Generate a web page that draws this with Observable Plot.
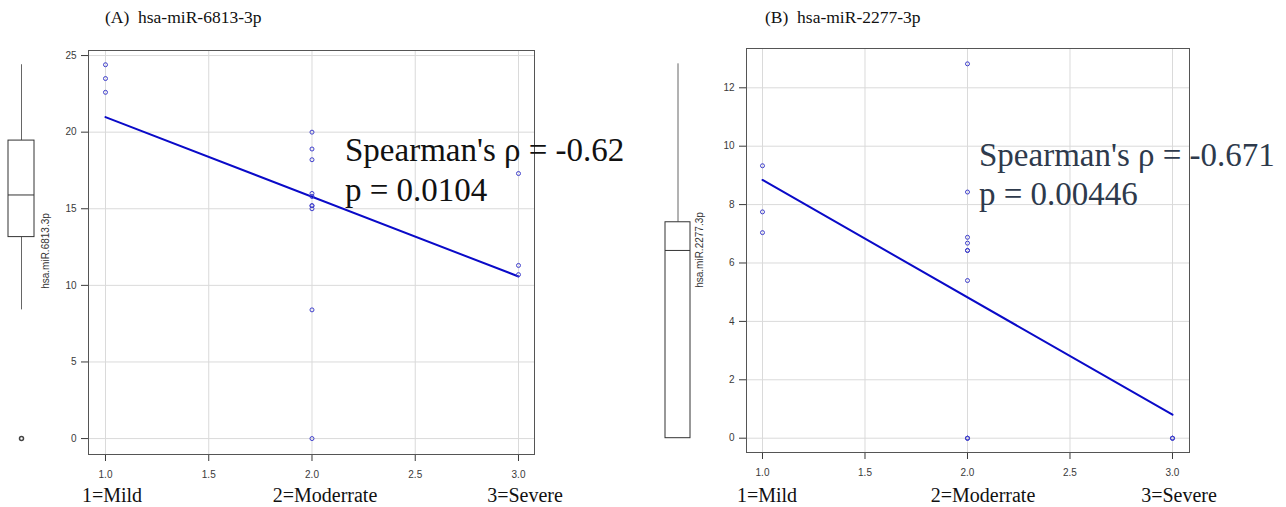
<!DOCTYPE html>
<html><head><meta charset="utf-8">
<script src="https://cdn.jsdelivr.net/npm/d3@7"></script>
<script src="https://cdn.jsdelivr.net/npm/@observablehq/plot@0.6"></script>
<style>
body{margin:0;background:#fff;}
#wrap{position:relative;width:1286px;height:507px;overflow:hidden;background:#fff;}
#wrap > svg, #wrap > div{position:absolute;}
.title{font-family:"Liberation Serif","Times New Roman",serif;font-size:17.5px;line-height:1;color:#111;white-space:pre;}
.stat{font-family:"Liberation Serif","Times New Roman",serif;font-size:33px;line-height:1;white-space:pre;}
.cat{font-family:"Liberation Serif","Times New Roman",serif;font-size:20px;line-height:1;color:#111;white-space:pre;transform:translateX(-50%);}
.ylab{font-family:"Liberation Sans",Arial,sans-serif;font-size:10px;line-height:1;color:#333;white-space:pre;transform:translate(-50%,-50%) rotate(-90deg);}
</style></head><body><div id="wrap"></div>
<script>
// ---- data ----
const titles = ["(A)  hsa-miR-6813-3p", "(B)  hsa-miR-2277-3p"];
const boxLabels = ["hsa.miR.6813.3p", "hsa.miR.2277.3p"];
const categoryLabels = ["1=Mild", "2=Moderrate", "3=Severe"];
const statLinesA = ["Spearman's \u03c1 = -0.62", "p = 0.0104"];
const statLinesB = ["Spearman's \u03c1 = -0.671", "p = 0.00446"];
const xTicks = [1, 1.5, 2, 2.5, 3];
const yTicksA = [0, 5, 10, 15, 20, 25];
const yTicksB = [0, 2, 4, 6, 8, 10, 12];
const severityA = [1,1,1, 2,2,2,2,2,2,2,2,2,2, 3,3,3];
const valuesA   = [24.4,23.5,22.6, 20.0,18.9,18.2,16.0,15.8,15.2,15.2,15.0,8.4,0, 17.3,11.3,10.7];
const severityB = [1,1,1, 2,2,2,2,2,2,2,2,2,2, 3,3,3];
const valuesB   = [9.33,7.75,7.04, 12.82,8.43,6.88,6.68,6.43,6.43,5.4,0,0,0, 0,0,0];

const wrap = document.getElementById("wrap");
const H = 507;

function fivenum(vals) {
  const x = vals.slice().sort(d3.ascending);
  const n = x.length;
  const n4 = Math.floor((n + 3) / 2) / 2;
  const at = d => 0.5 * (x[Math.floor(d) - 1] + x[Math.ceil(d) - 1]);
  const q1 = at(n4), med = at((n + 1) / 2), q3 = at(n + 1 - n4);
  const iqr = q3 - q1;
  const lo = d3.min(x.filter(v => v >= q1 - 1.5 * iqr));
  const hi = d3.max(x.filter(v => v <= q3 + 1.5 * iqr));
  const out = x.filter(v => v < lo || v > hi);
  return {q1, med, q3, lo, hi, out};
}

function scatter({sev, val, yTicks, xDomain, yDomain, width, mL, mR, mT, mB}) {
  const data = sev.map((s, i) => ({s, v: val[i]}));
  return Plot.plot({
    width, height: H, marginLeft: mL, marginRight: mR, marginTop: mT, marginBottom: mB,
    style: {fontFamily: "'Liberation Sans', Arial, sans-serif", fontSize: "10px", color: "#3a3a3a", background: "transparent", overflow: "visible"},
    x: {domain: xDomain, ticks: xTicks, tickFormat: d3.format(".1f"), label: null, tickSize: 7, tickPadding: 9},
    y: {domain: yDomain, ticks: yTicks, label: null, tickSize: 7, tickPadding: 5},
    marks: [
      Plot.ruleX(xTicks, {stroke: "#dadada", strokeWidth: 1}),
      Plot.ruleY(yTicks, {stroke: "#dadada", strokeWidth: 1}),
      Plot.linearRegressionY(data, {x: "s", y: "v", ci: 0, stroke: "#0a0ac8", strokeWidth: 2}),
      Plot.dot(data, {x: "s", y: "v", r: 2, stroke: "#4040cc", strokeWidth: 1, fill: "none"}),
      Plot.frame({stroke: "#555"})
    ]
  });
}

function boxChart({val, yDomain, width, mL, mR, mT, mB}) {
  const st = fivenum(val);
  const row = [{x: 0.5, x1: 0, x2: 1, ...st}];
  return Plot.plot({
    width, height: H, marginLeft: mL, marginRight: mR, marginTop: mT, marginBottom: mB,
    style: {background: "transparent", overflow: "visible"},
    x: {domain: [0, 1], axis: null},
    y: {domain: yDomain, axis: null},
    marks: [
      Plot.ruleX(row, {x: "x", y1: "hi", y2: "q3", stroke: "#666"}),
      Plot.ruleX(row, {x: "x", y1: "lo", y2: "q1", stroke: "#666"}),
      Plot.rect(row, {x1: "x1", x2: "x2", y1: "q1", y2: "q3", fill: "white", stroke: "#333"}),
      Plot.ruleY(row, {x1: "x1", x2: "x2", y: "med", stroke: "#333"}),
      Plot.dot(st.out, {x: () => 0.5, y: d => d, r: 2, stroke: "#444", fill: "none"})
    ]
  });
}

function place(el, left, top) {
  el.style.left = left + "px";
  el.style.top = top + "px";
  wrap.appendChild(el);
  return el;
}
function textDiv(cls, txt, left, top, color) {
  const d = document.createElement("div");
  d.className = cls;
  d.textContent = txt;
  if (color) d.style.color = color;
  return place(d, left, top);
}

// Panel A
const domA = {xDomain: [0.9177, 3.0775], yDomain: [-1.04, 25.33]};
place(boxChart({val: valuesA, yDomain: domA.yDomain, width: 44, mL: 8, mR: 10, mT: 50, mB: 53}), 0, 0);
place(scatter({sev: severityA, val: valuesA, yTicks: yTicksA, ...domA, width: 640, mL: 88, mR: 106, mT: 50, mB: 53}), 0, 0);
textDiv("ylab", boxLabels[0], 46, 251);
textDiv("title", titles[0], 105, 9);
textDiv("stat", statLinesA[0], 345, 134, "#111");
textDiv("stat", statLinesA[1], 345, 174, "#111");
[112, 325, 525].forEach((cx, i) => textDiv("cat", categoryLabels[i], cx, 485));

// Panel B
const domB = {xDomain: [0.922, 3.083], yDomain: [-0.49, 13.346]};
place(boxChart({val: valuesB, yDomain: domB.yDomain, width: 50, mL: 15, mR: 10, mT: 48, mB: 55}), 650, 0);
place(scatter({sev: severityB, val: valuesB, yTicks: yTicksB, ...domB, width: 646, mL: 106, mR: 97, mT: 48, mB: 55}), 640, 0);
textDiv("ylab", boxLabels[1], 700, 250);
textDiv("title", titles[1], 765, 9);
textDiv("stat", statLinesB[0], 979, 139, "#2e3a4c");
textDiv("stat", statLinesB[1], 979, 178, "#2e3a4c");
[767, 983, 1179].forEach((cx, i) => textDiv("cat", categoryLabels[i], cx, 485));
</script>
</body></html>
